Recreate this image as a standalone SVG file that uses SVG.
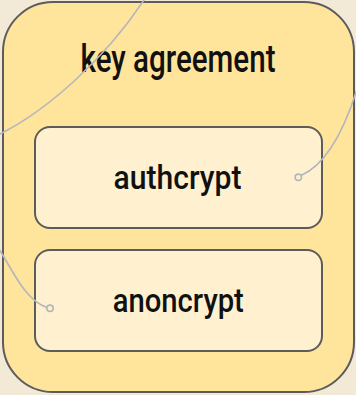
<svg xmlns="http://www.w3.org/2000/svg" width="356" height="395" viewBox="0 0 356 395">
  <style>
    .group { fill: #ffe49b; stroke: #5c5c5c; stroke-width: 2; }
    .node { fill: #fff1cf; stroke: #5c5c5c; stroke-width: 2; }
    .label { font-family: "Roboto", "Liberation Sans", sans-serif; font-weight: 500; fill: #111111; text-anchor: middle; }
    .edge { fill: none; stroke: #b3b6bd; stroke-width: 1.6; }
    .end { fill: #fff1cf; stroke: #b3b6bd; stroke-width: 1.6; }
  </style>
  <rect x="0" y="0" width="356" height="395" fill="#f2e9d6"/>

  <g id="key-agreement">
    <rect class="group" x="3" y="2" width="351" height="390" rx="50" ry="50"/>
    <text class="label" x="178" y="71.5" font-size="39.5" textLength="195" lengthAdjust="spacingAndGlyphs">key agreement</text>
  </g>

  <g id="authcrypt">
    <rect class="node" x="35" y="127" width="287" height="101" rx="15" ry="15"/>
    <text class="label" x="177.5" y="189.3" font-size="34" textLength="128" lengthAdjust="spacingAndGlyphs">authcrypt</text>
  </g>

  <g id="anoncrypt">
    <rect class="node" x="35" y="250" width="287" height="101" rx="15" ry="15"/>
    <text class="label" x="178.3" y="312.3" font-size="34" textLength="131" lengthAdjust="spacingAndGlyphs">anoncrypt</text>
  </g>

  <g id="connectors">
    <path class="edge" d="M -2 135 C 45 112, 105 60, 146 -3"/>
    <path class="edge" d="M 301 175.5 C 325 165, 343 135, 358 86"/>
    <circle class="end" cx="298.3" cy="177.3" r="3.2"/>
    <path class="edge" d="M -3 246 C 12 268, 24 300, 47 307.5"/>
    <circle class="end" cx="50" cy="308.3" r="3.2"/>
  </g>
</svg>
